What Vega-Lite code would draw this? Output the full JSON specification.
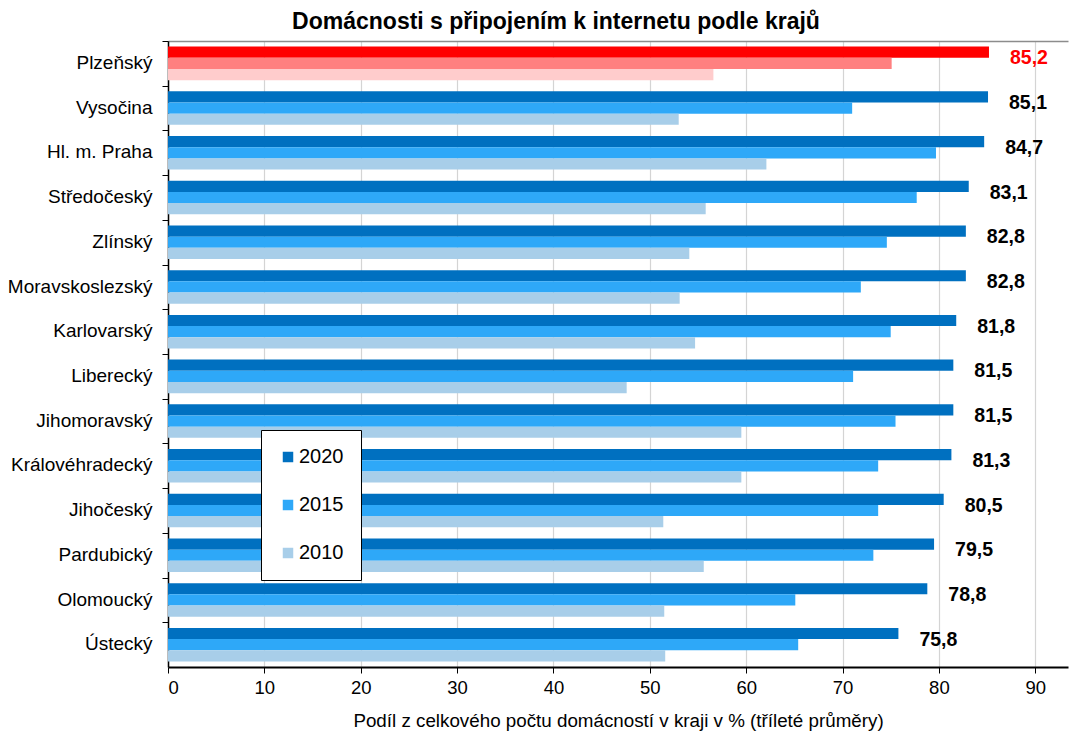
{
  "$schema": "https://vega.github.io/schema/vega-lite/v6.json",
  "width": 900,
  "height": 626,
  "autosize": {"type": "none"},
  "padding": {"left": 168, "top": 41, "right": 2, "bottom": 64},
  "background": "white",
  "title": {
    "text": "Domácnosti s připojením k internetu podle krajů",
    "font": "Liberation Sans",
    "fontSize": 23,
    "fontWeight": "bold",
    "color": "black",
    "anchor": "middle",
    "dx": -62,
    "offset": 7
  },
  "config": {
    "font": "Liberation Sans",
    "view": {"stroke": null}
  },
  "data": {
    "values": [
      {"kraj": "Plzeňský", "rok": "2020", "hodnota": 85.2},
      {"kraj": "Plzeňský", "rok": "2015", "hodnota": 75.1},
      {"kraj": "Plzeňský", "rok": "2010", "hodnota": 56.6},
      {"kraj": "Vysočina", "rok": "2020", "hodnota": 85.1},
      {"kraj": "Vysočina", "rok": "2015", "hodnota": 71.0},
      {"kraj": "Vysočina", "rok": "2010", "hodnota": 53.0},
      {"kraj": "Hl. m. Praha", "rok": "2020", "hodnota": 84.7},
      {"kraj": "Hl. m. Praha", "rok": "2015", "hodnota": 79.7},
      {"kraj": "Hl. m. Praha", "rok": "2010", "hodnota": 62.1},
      {"kraj": "Středočeský", "rok": "2020", "hodnota": 83.1},
      {"kraj": "Středočeský", "rok": "2015", "hodnota": 77.7},
      {"kraj": "Středočeský", "rok": "2010", "hodnota": 55.8},
      {"kraj": "Zlínský", "rok": "2020", "hodnota": 82.8},
      {"kraj": "Zlínský", "rok": "2015", "hodnota": 74.6},
      {"kraj": "Zlínský", "rok": "2010", "hodnota": 54.1},
      {"kraj": "Moravskoslezský", "rok": "2020", "hodnota": 82.8},
      {"kraj": "Moravskoslezský", "rok": "2015", "hodnota": 71.9},
      {"kraj": "Moravskoslezský", "rok": "2010", "hodnota": 53.1},
      {"kraj": "Karlovarský", "rok": "2020", "hodnota": 81.8},
      {"kraj": "Karlovarský", "rok": "2015", "hodnota": 75.0},
      {"kraj": "Karlovarský", "rok": "2010", "hodnota": 54.7},
      {"kraj": "Liberecký", "rok": "2020", "hodnota": 81.5},
      {"kraj": "Liberecký", "rok": "2015", "hodnota": 71.1},
      {"kraj": "Liberecký", "rok": "2010", "hodnota": 47.6},
      {"kraj": "Jihomoravský", "rok": "2020", "hodnota": 81.5},
      {"kraj": "Jihomoravský", "rok": "2015", "hodnota": 75.5},
      {"kraj": "Jihomoravský", "rok": "2010", "hodnota": 59.5},
      {"kraj": "Královéhradecký", "rok": "2020", "hodnota": 81.3},
      {"kraj": "Královéhradecký", "rok": "2015", "hodnota": 73.7},
      {"kraj": "Královéhradecký", "rok": "2010", "hodnota": 59.5},
      {"kraj": "Jihočeský", "rok": "2020", "hodnota": 80.5},
      {"kraj": "Jihočeský", "rok": "2015", "hodnota": 73.7},
      {"kraj": "Jihočeský", "rok": "2010", "hodnota": 51.4},
      {"kraj": "Pardubický", "rok": "2020", "hodnota": 79.5},
      {"kraj": "Pardubický", "rok": "2015", "hodnota": 73.2},
      {"kraj": "Pardubický", "rok": "2010", "hodnota": 55.6},
      {"kraj": "Olomoucký", "rok": "2020", "hodnota": 78.8},
      {"kraj": "Olomoucký", "rok": "2015", "hodnota": 65.1},
      {"kraj": "Olomoucký", "rok": "2010", "hodnota": 51.5},
      {"kraj": "Ústecký", "rok": "2020", "hodnota": 75.8},
      {"kraj": "Ústecký", "rok": "2015", "hodnota": 65.4},
      {"kraj": "Ústecký", "rok": "2010", "hodnota": 51.6}
    ]
  },
  "transform": [
    {"calculate": "datum.kraj === 'Plzeňský' ? 'P' + datum.rok : datum.rok", "as": "serie"},
    {"calculate": "replace(format(datum.hodnota, '.1f'), '.', ',')", "as": "popisek"}
  ],
  "layer": [
    {
      "mark": {"type": "bar"},
      "encoding": {
        "y": {
          "field": "kraj",
          "type": "nominal",
          "sort": ["Plzeňský", "Vysočina", "Hl. m. Praha", "Středočeský", "Zlínský", "Moravskoslezský", "Karlovarský", "Liberecký", "Jihomoravský", "Královéhradecký", "Jihočeský", "Pardubický", "Olomoucký", "Ústecký"],
          "scale": {"paddingInner": 0, "paddingOuter": 0},
          "axis": {
            "title": null,
            "tickOffset": -22.36,
            "labelOffset": 21.5,
            "domainColor": "black",
            "domainWidth": 1.5,
            "tickColor": "black",
            "tickSize": 6,
            "labelPadding": 10,
            "labelFontSize": 19,
            "labelColor": "black",
            "labelFont": "Liberation Sans",
            "grid": false
          }
        },
        "yOffset": {
          "field": "rok",
          "type": "nominal",
          "sort": ["2020", "2015", "2010"],
          "scale": {"paddingInner": 0, "paddingOuter": 0.5}
        },
        "x": {
          "field": "hodnota",
          "type": "quantitative",
          "scale": {"domain": [0, 93.4], "nice": false, "zero": true},
          "axis": {
            "orient": "bottom",
            "values": [0, 10, 20, 30, 40, 50, 60, 70, 80, 90],
            "title": "Podíl z celkového počtu domácností v kraji v % (tříleté průměry)",
            "titleFontSize": 18.8,
            "titleFontWeight": "normal",
            "titleColor": "black",
            "titleFont": "Liberation Sans",
            "titlePadding": 15,
            "labelFontSize": 18.5,
            "labelColor": "black",
            "labelFont": "Liberation Sans",
            "labelPadding": 5,
            "tickColor": "black",
            "tickSize": 6,
            "domainColor": "black",
            "domainWidth": 2,
            "grid": true,
            "gridColor": "#D4D4D4",
            "gridWidth": 1.2
          }
        },
        "color": {
          "field": "serie",
          "type": "nominal",
          "scale": {
            "domain": ["2020", "2015", "2010", "P2020", "P2015", "P2010"],
            "range": ["#0070C0", "#2EA8F8", "#A8CEE9", "#FF0000", "#FF8080", "#FFCCCC"]
          },
          "legend": {
            "values": ["2020", "2015", "2010"],
            "title": null,
            "orient": "none",
            "legendX": 93,
            "legendY": 389,
            "direction": "vertical",
            "symbolType": "square",
            "symbolSize": 110,
            "symbolStrokeWidth": 0,
            "symbolOffset": 0,
            "labelFontSize": 20,
            "labelFont": "Liberation Sans",
            "labelColor": "black",
            "labelOffset": 1,
            "rowPadding": 28,
            "padding": 17,
            "fillColor": "white",
            "strokeColor": "black"
          }
        }
      }
    },
    {
      "transform": [{"filter": "datum.rok === '2020'"}],
      "mark": {"type": "text", "align": "left", "baseline": "middle", "dx": 21, "dy": -5, "fontWeight": "bold", "fontSize": 19.5, "font": "Liberation Sans"},
      "encoding": {
        "y": {
          "field": "kraj",
          "type": "nominal",
          "sort": ["Plzeňský", "Vysočina", "Hl. m. Praha", "Středočeský", "Zlínský", "Moravskoslezský", "Karlovarský", "Liberecký", "Jihomoravský", "Královéhradecký", "Jihočeský", "Pardubický", "Olomoucký", "Ústecký"]
        },
        "x": {
          "field": "hodnota",
          "type": "quantitative",
          "axis": {
            "orient": "top",
            "labels": false,
            "ticks": false,
            "grid": false,
            "title": null,
            "domainColor": "#8C8C8C",
            "domainWidth": 1.5
          }
        },
        "text": {"field": "popisek", "type": "nominal"},
        "color": {
          "condition": {"test": "datum.kraj === 'Plzeňský'", "value": "#FF0000"},
          "value": "black"
        }
      }
    }
  ],
  "resolve": {"axis": {"x": "independent"}}
}
